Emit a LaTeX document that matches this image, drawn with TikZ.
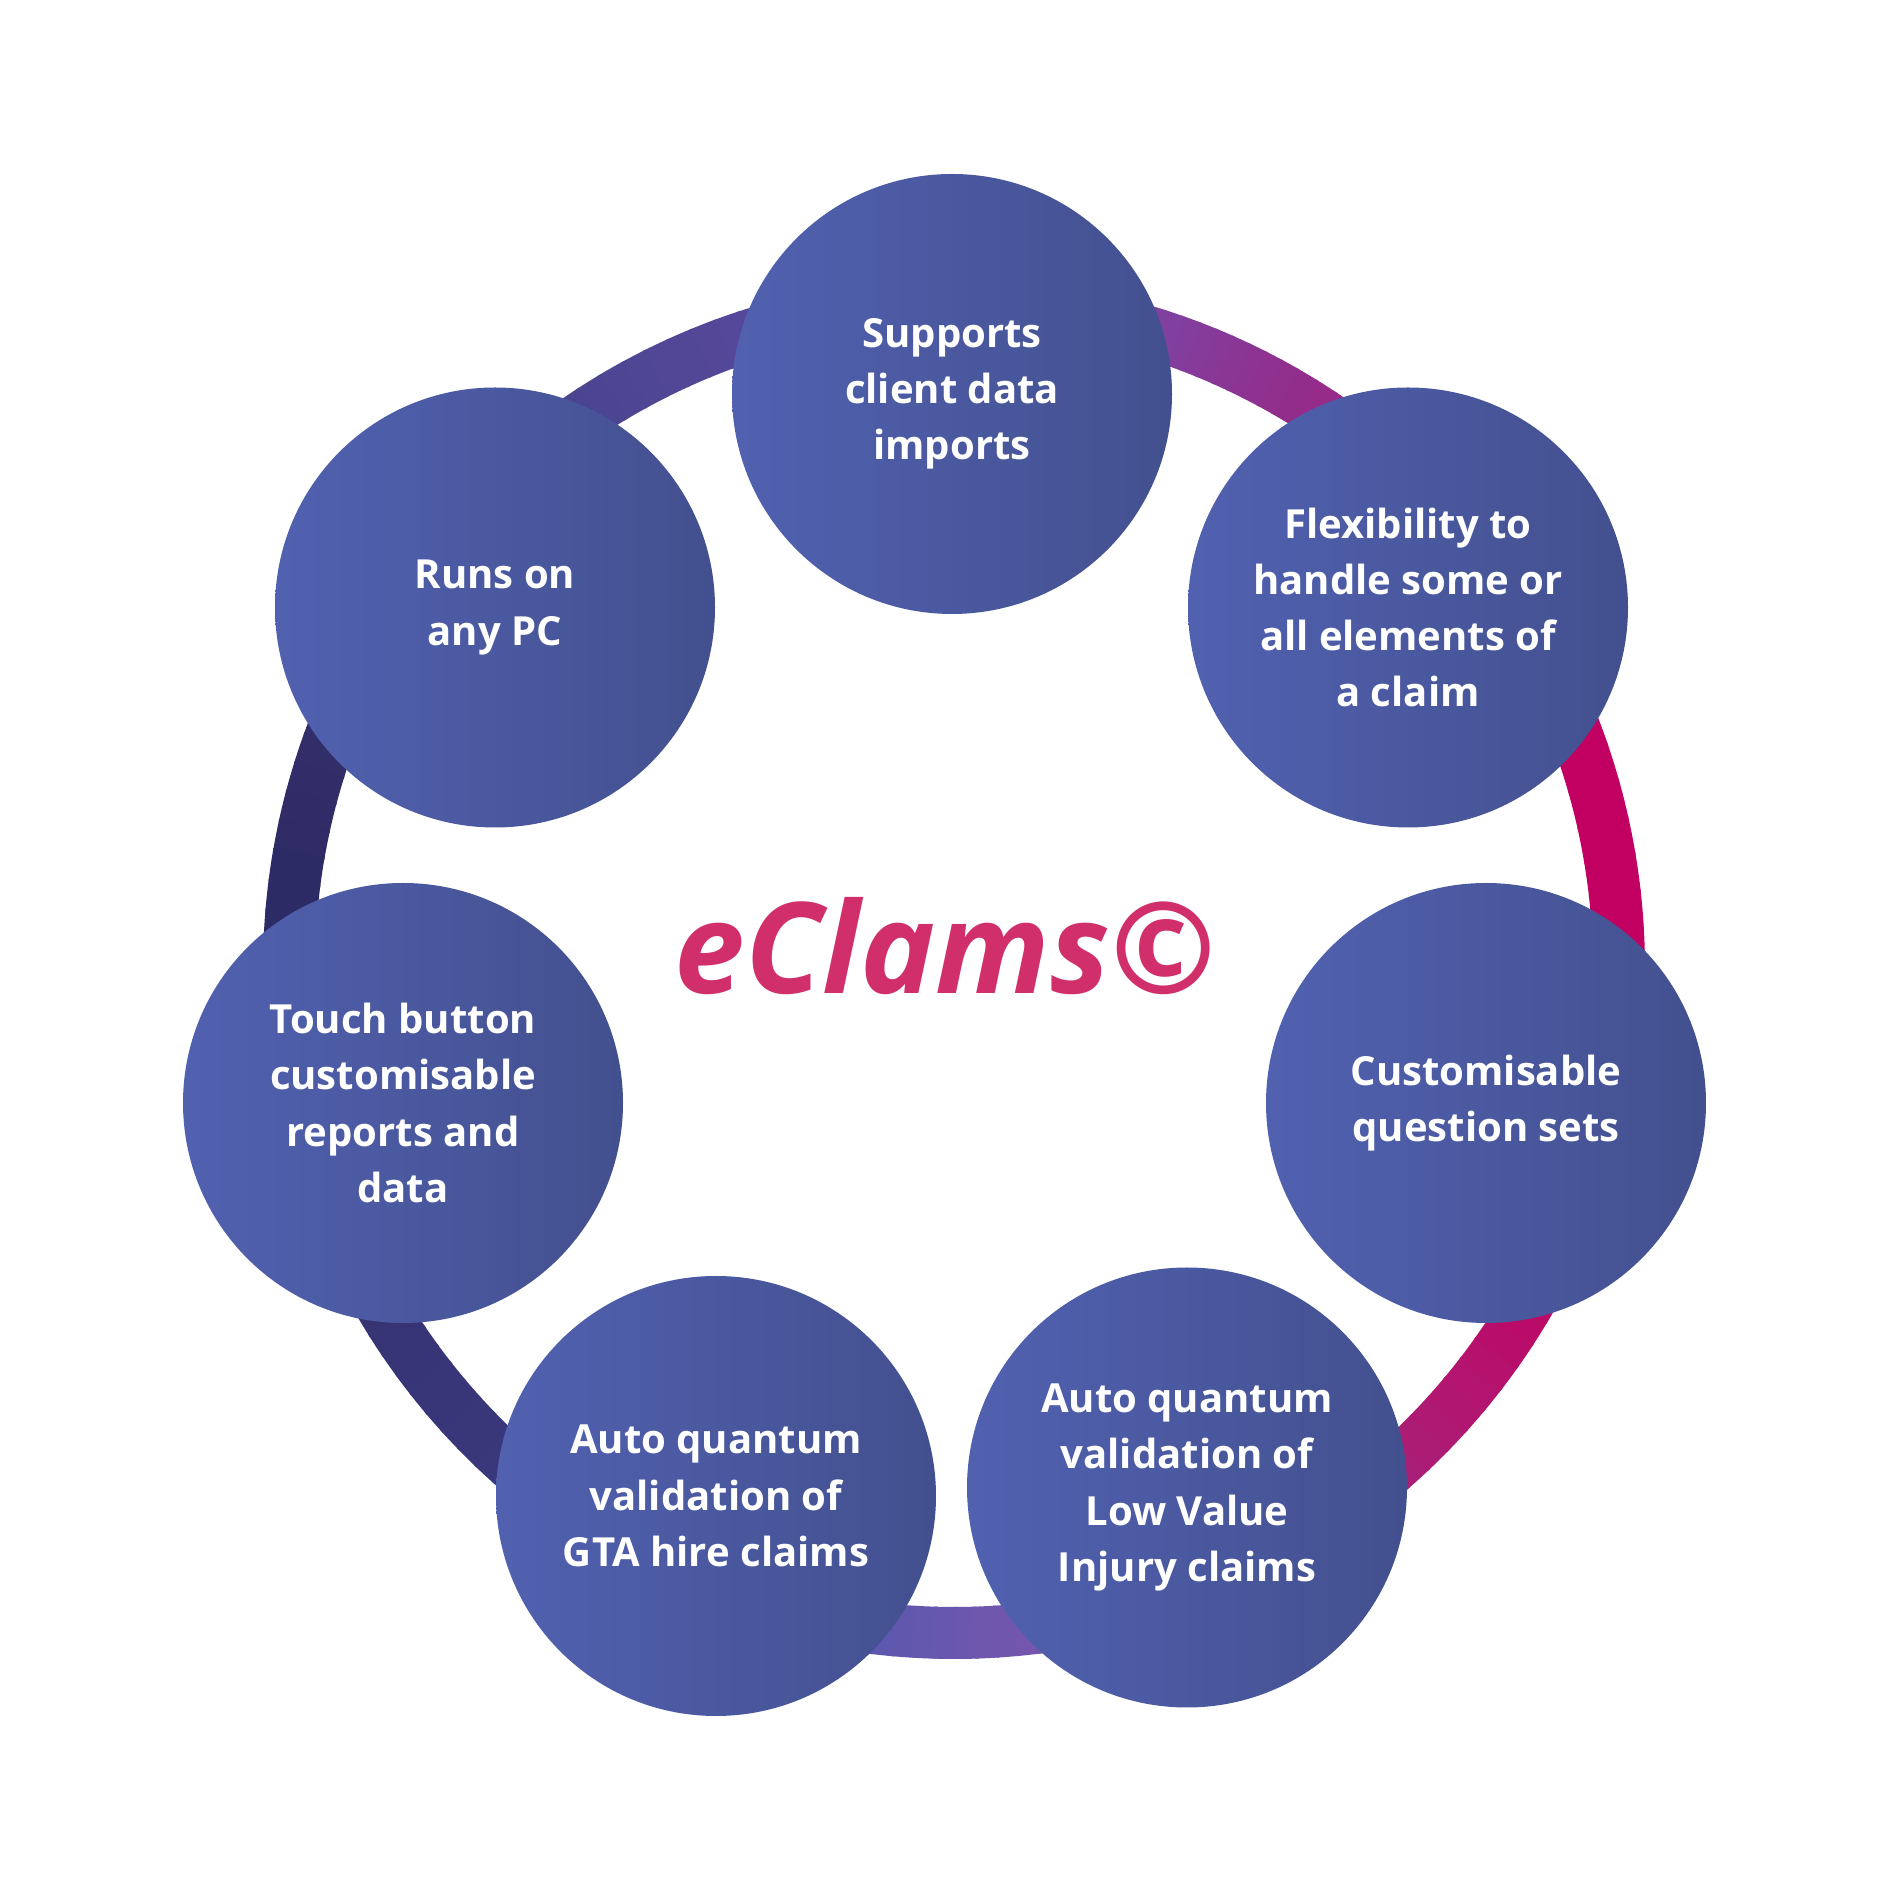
\documentclass[tikz,border=0pt]{standalone}
\usepackage{fontspec}
\setmainfont{Open Sans}
\usetikzlibrary{positioning}

\definecolor{circL}{HTML}{5161B0}
\definecolor{circR}{HTML}{43508F}
\definecolor{titlecol}{HTML}{D12E6C}
% ring colour stops
\definecolor{rA}{HTML}{C20062}
\definecolor{rB}{HTML}{A82080}
\definecolor{rC}{HTML}{922E8C}
\definecolor{rD}{HTML}{8040A0}
\definecolor{rE}{HTML}{6C48A0}
\definecolor{rF}{HTML}{56489A}
\definecolor{rG}{HTML}{4A4590}
\definecolor{rH}{HTML}{363270}
\definecolor{rI}{HTML}{2D2B66}
\definecolor{rJ}{HTML}{363474}
\definecolor{rK}{HTML}{3A387C}
\definecolor{rL}{HTML}{4A48A0}
\definecolor{rM}{HTML}{5C58AE}
\definecolor{rN}{HTML}{7656AD}
\definecolor{rO}{HTML}{8A3E98}
\definecolor{rP}{HTML}{A82078}
\definecolor{rQ}{HTML}{BC0A68}

\tikzset{
  feature/.style={circle, minimum size=4.4cm, inner sep=0pt,
    left color=circL, right color=circR, text=white, align=center,
    font=\fontsize{11.4}{16}\selectfont\bfseries},
  ringseg/.style={line width=0.52cm}
}

\begin{document}
\begin{tikzpicture}
  \fill[white] (0,0) rectangle (18.9,18.9);
  \useasboundingbox (0,0) rectangle (18.9,18.9);

  % ring behind the circles
  \begin{scope}[shift={(9.54,9.22)}]
    \foreach \sa/\sb/\ca/\cb in {0/25/rA/rA, 25/45/rA/rB, 45/60/rB/rC, 60/72/rC/rD,
        72/90/rD/rE, 90/108/rE/rF, 108/125/rF/rG, 125/150/rG/rH, 150/170/rH/rI,
        170/190/rI/rI, 190/212/rI/rJ, 212/228/rJ/rK, 228/250/rK/rL, 250/263/rL/rM,
        263/277/rM/rN, 277/290/rN/rO, 290/311/rO/rP, 311/329/rP/rQ, 329/345/rQ/rA,
        345/360/rA/rA}{
      \foreach \i in {0,...,7}{
        \pgfmathsetmacro\ta{\sa+(\sb-\sa)*\i/8}
        \pgfmathsetmacro\tb{\sa+(\sb-\sa)*(\i+1)/8+0.3}
        \pgfmathtruncatemacro\p{100-\i*12.5-6}
        \draw[ringseg, \ca!\p!\cb] (\ta:6.65) arc[start angle=\ta, end angle=\tb, radius=6.65];
      }
    }
  \end{scope}

  % feature circles
  \node[feature] (imports)   at (9.52,14.96)  {Supports\\client data\\imports};
  \node[feature] (flex)      at (14.08,12.825) {Flexibility to\\handle some or\\all elements of\\a claim};
  \node[feature] (questions) at (14.86,7.87)  {Customisable\\question sets};
  \node[feature] (lowvalue)  at (11.87,4.025) {Auto quantum\\validation of\\Low Value\\Injury claims};
  \node[feature] (gta)       at (7.16,3.94)   {Auto quantum\\validation of\\GTA hire claims};
  \node[feature] (reports)   at (4.03,7.87)   {Touch button\\customisable\\reports and\\data};
  \node[feature] (anypc)     at (4.95,12.825) {Runs on\\any PC};

  % centre title
  \node[anchor=base, text=titlecol, inner sep=0pt,
    font=\fontsize{36}{44}\selectfont\bfseries\itshape] (title) at (9.45,8.96) {eClams©};
\end{tikzpicture}
\end{document}
